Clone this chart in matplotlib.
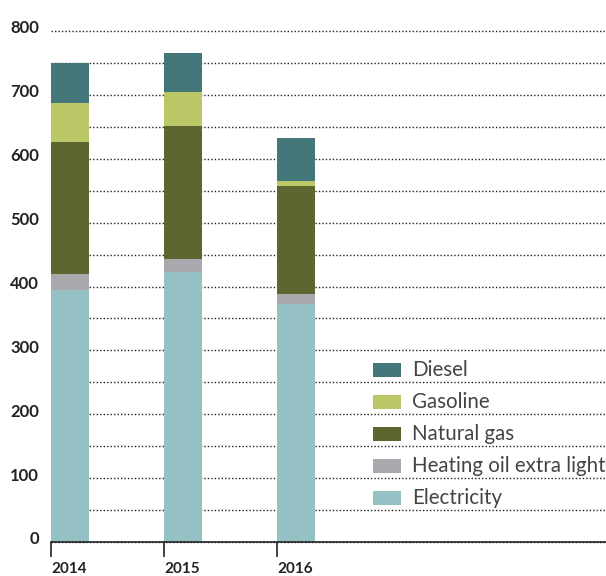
import matplotlib
matplotlib.use("Agg")
import matplotlib.pyplot as plt
from matplotlib.patches import Rectangle
import matplotlib.transforms as mtransforms
import numpy as np

years = ["2014", "2015", "2016"]
series = ["Electricity", "Heating oil extra light", "Natural gas", "Gasoline", "Diesel"]
electricity = [394, 423, 372]
heating_oil = [25, 20, 16]
natural_gas = [207, 209, 169]
gasoline = [61, 52, 8]
diesel = [63, 61, 67]
colors = {"Electricity": "#96C1C4", "Heating oil extra light": "#A8A9AD",
          "Natural gas": "#5C6631", "Gasoline": "#BCC768", "Diesel": "#44777A"}
yticks = [0, 100, 200, 300, 400, 500, 600, 700, 800]

plt.rcParams['font.family'] = ['Lato', 'DejaVu Sans']

fig = plt.figure(figsize=(6.06, 5.76), dpi=100)
ax = fig.add_axes([51/606, 1-542/576, 1-51/606, (542-31)/576])

x = np.arange(len(years))
width = 0.336
values = [electricity, heating_oil, natural_gas, gasoline, diesel]
bottom = np.zeros(len(years))
for name, vals in zip(series, values):
    ax.bar(x, vals, width=width, bottom=bottom, align='edge', color=colors[name], zorder=3, linewidth=0)
    bottom += np.array(vals)

ax.set_xlim(0, 555/113)
ax.set_ylim(0, 800)
ax.set_yticks(yticks)
ax.set_yticklabels([str(t) for t in yticks], fontsize=12, fontweight='bold', color='#222222')
ax.set_yticks(np.arange(50, 801, 100), minor=True)
ax.tick_params(axis='y', which='both', length=0, pad=8.5)
ax.grid(axis='y', which='both', linestyle=(0, (1, 1.5)), color='#222222', linewidth=1.0, zorder=0)
for t in ax.yaxis.get_major_ticks() + ax.yaxis.get_minor_ticks():
    t.gridline.set_clip_on(False)
shift = mtransforms.ScaledTranslation(0, 4/100, fig.dpi_scale_trans)
for lab in ax.get_yticklabels():
    lab.set_transform(lab.get_transform() + shift)

ax.set_xticks(x)
ax.set_xticklabels(years, fontsize=11, fontweight='bold', color='#222222', ha='left')
ax.tick_params(axis='x', length=11, width=1.2, color='#222222', pad=3.5)

for s in ['top', 'right', 'left']:
    ax.spines[s].set_visible(False)
ax.spines['bottom'].set_color('#222222')
ax.spines['bottom'].set_linewidth(1.2)
ax.spines['bottom'].set_zorder(4)

# legend, drawn manually between gridlines
legend_order = ["Diesel", "Gasoline", "Natural gas", "Heating oil extra light", "Electricity"]
legend_centers = [269, 219, 169, 119, 69]
x0 = (373-51)/113
wpx = 28/113
for name, yc in zip(legend_order, legend_centers):
    ax.add_patch(Rectangle((x0, yc - 11), wpx, 22, color=colors[name], zorder=3, linewidth=0))
    ax.text((412-51)/113, yc, name, fontsize=14.8, va='center', ha='left', color='#444444', zorder=3)

fig.savefig("out.png", dpi=100)
